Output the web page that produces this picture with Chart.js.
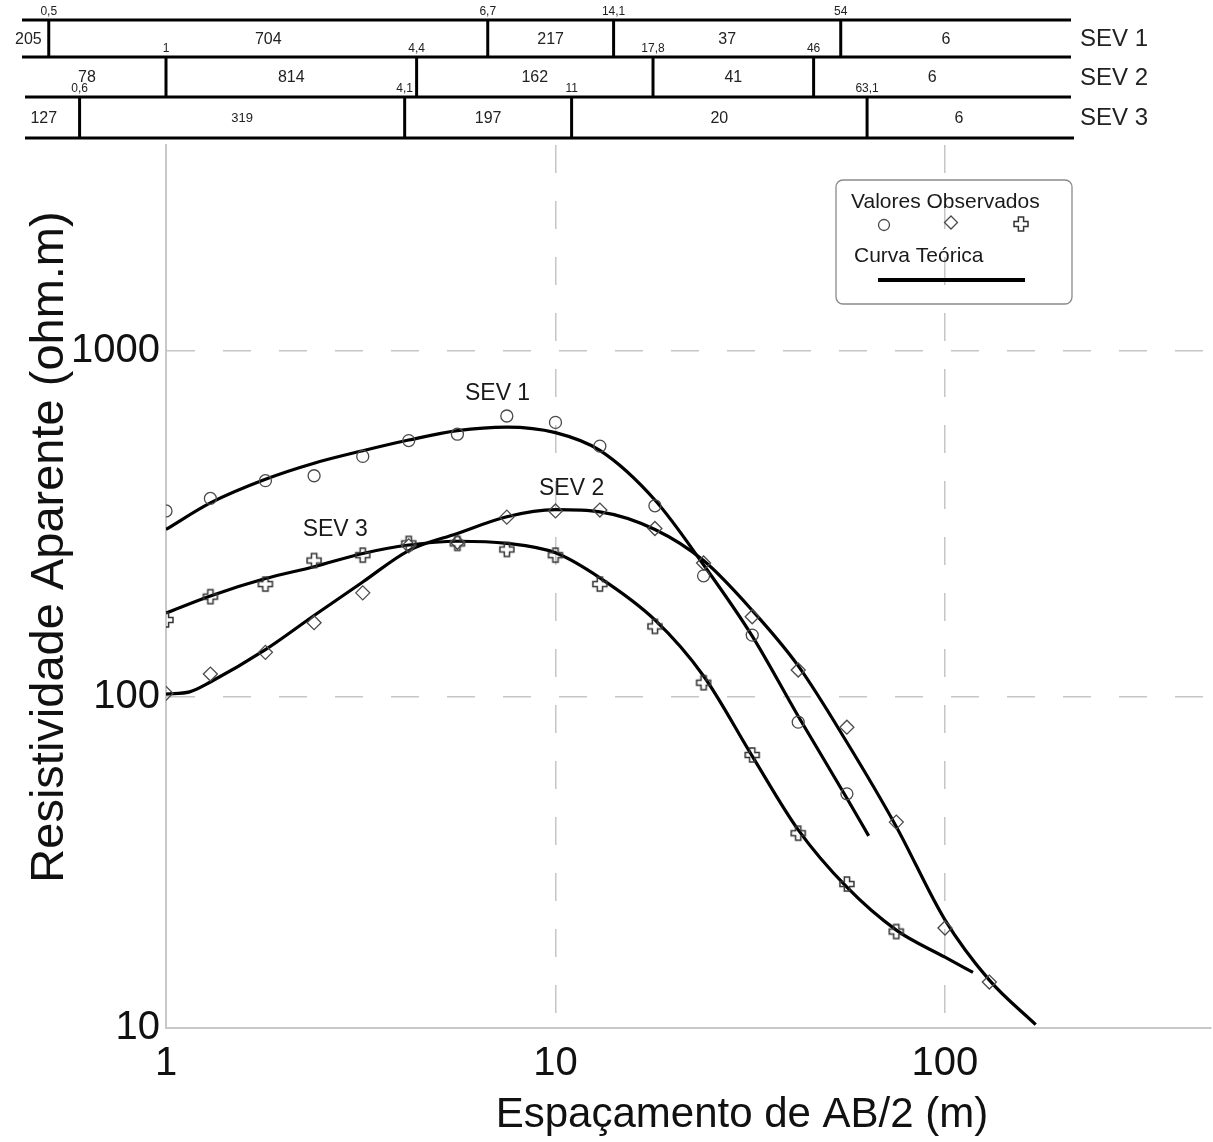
<!DOCTYPE html>
<html>
<head>
<meta charset="utf-8">
<script src="https://cdn.jsdelivr.net/npm/chart.js@4.4.1/dist/chart.umd.min.js"></script>
<style>
html,body{margin:0;padding:0;background:#fff;}
#wrap{width:1213px;height:1142px;position:relative;}
</style>
</head>
<body>
<div id="wrap"><canvas id="c" width="1213" height="1142"></canvas></div>
<script>
// ---------- DATA ----------
const abHalf = [1, 1.3, 1.8, 2.4, 3.2, 4.2, 5.6, 7.5, 10, 13, 18, 24, 32, 42, 56, 75, 100, 130];
const sev1Obs = [345, 375, 422, 436, 496, 551, 575, 649, 622, 531, 357, 224, 151, 84.6, 52.5];
const sev2Obs = [102.5, 116.5, 134.6, 164, 200, 273.5, 280, 331, 345, 347, 307, 244, 170.6, 119.7, 81.8, 43.5, 21.5, 15.0];
const sev3Obs = [167, 195, 212, 248, 257, 278, 278, 267, 257, 212, 160, 110, 68, 40.4, 28.8, 21.0];

const sev1CurveX = [1, 1.3, 1.8, 2.4, 3.2, 4.2, 5.6, 7.5, 10, 13, 18, 24, 32, 42, 56, 63.7];
const sev1CurveY = [305, 364, 426, 474, 515, 553, 589, 603, 581, 516, 371, 241, 150, 88, 51, 39.7];
const sev2CurveX = [1, 1.15, 1.3, 1.8, 2.4, 3.2, 4.2, 5.6, 7.5, 10, 13, 18, 24, 32, 42, 56, 75, 100, 130, 171];
const sev2CurveY = [102, 103.5, 110.5, 137, 172, 215, 265, 297, 332, 348, 343, 305, 248, 178, 123, 74, 42.2, 22.7, 15.2, 11.3];
const sev3CurveX = [1, 1.3, 1.8, 2.4, 3.2, 4.2, 5.6, 7.5, 10, 13, 18, 24, 32, 42, 56, 75, 100, 118];
const sev3CurveY = [175, 196, 220, 238, 260, 275, 282, 278, 261, 221, 167, 115, 67.5, 41.3, 28.2, 21.2, 17.7, 16.0];

// geoelectric layer models (depth of interfaces in m, resistivities in ohm.m)
const sevNames = ['SEV 1', 'SEV 2', 'SEV 3'];
const sev1Depths = [0.5, 6.7, 14.1, 54];
const sev1Res = [205, 704, 217, 37, 6];
const sev2Depths = [1, 4.4, 17.8, 46];
const sev2Res = [78, 814, 162, 41, 6];
const sev3Depths = [0.6, 4.1, 11, 63.1];
const sev3Res = [127, 319, 197, 20, 6];

const xTickValues = [1, 10, 100];
const xTickLabels = ['1', '10', '100'];
const yTickValues = [10, 100, 1000];
const yTickLabels = ['10', '100', '1000'];

const xTitle = 'Espaçamento de AB/2 (m)';
const yTitle = 'Resistividade Aparente (ohm.m)';
const legendObsTitle = 'Valores Observados';
const legendCurveTitle = 'Curva Teórica';
const curveLabels = [
  {text: 'SEV 1', x: 7.1, y: 751},
  {text: 'SEV 2', x: 11, y: 399},
  {text: 'SEV 3', x: 2.72, y: 304}
];

// ---------- SCALE RANGE ----------
const xMin = 1, xMax = 482;
const yMin = 11.05, yMax = 3940;

// ---------- STYLE ----------
const FONT = "'Liberation Sans', Arial, sans-serif";
const INK = '#111';
const GRID = '#c6c6c6';
const MARK = '#4a4a4a';

function makeCross() {
  const c = document.createElement('canvas');
  c.width = 18; c.height = 18;
  const g = c.getContext('2d');
  const m = 9, a = 2.6, L = 7;
  g.beginPath();
  g.moveTo(m - a, m - L); g.lineTo(m + a, m - L); g.lineTo(m + a, m - a);
  g.lineTo(m + L, m - a); g.lineTo(m + L, m + a); g.lineTo(m + a, m + a);
  g.lineTo(m + a, m + L); g.lineTo(m - a, m + L); g.lineTo(m - a, m + a);
  g.lineTo(m - L, m + a); g.lineTo(m - L, m - a); g.lineTo(m - a, m - a);
  g.closePath();
  g.strokeStyle = '#333'; g.lineWidth = 1.5; g.stroke();
  return c;
}
const crossImg = makeCross();

const pts = (xs, ys) => ys.map((v, i) => ({x: xs[i], y: v}));

function obsSet(label, data, style, radius) {
  return {
    label, data: pts(abHalf, data), showLine: false,
    pointStyle: style, pointRadius: radius, pointHoverRadius: radius,
    pointBorderColor: MARK, pointBorderWidth: 1.3,
    pointBackgroundColor: 'rgba(0,0,0,0)', borderColor: MARK, backgroundColor: 'rgba(0,0,0,0)'
  };
}
function curveSet(label, xs, ys) {
  return {
    label, data: pts(xs, ys), showLine: true, borderColor: '#000', borderWidth: 3.2,
    pointRadius: 0, cubicInterpolationMode: 'monotone', fill: false
  };
}

// ---------- PLUGINS ----------
const fmtDepth = v => String(v).replace('.', ',');

const strataPlugin = {
  id: 'strata',
  afterDraw(chart) {
    const ctx = chart.ctx, xs = chart.scales.x;
    const rows = [
      {name: sevNames[0], depths: sev1Depths, res: sev1Res},
      {name: sevNames[1], depths: sev2Depths, res: sev2Res},
      {name: sevNames[2], depths: sev3Depths, res: sev3Res}
    ];
    const lineYs = [20, 57, 97, 138];
    const xL = 22, xR = 1071;
    ctx.save();
    ctx.strokeStyle = '#000';
    ctx.lineWidth = 3;
    lineYs.forEach((y, i) => {
      ctx.beginPath();
      ctx.moveTo(i < 2 ? xL : xL + 3, y);
      ctx.lineTo(i < 3 ? xR : xR + 3, y);
      ctx.stroke();
    });
    rows.forEach((r, i) => {
      const top = lineYs[i], bot = lineYs[i + 1], mid = (top + bot) / 2;
      const px = r.depths.map(d => xs.getPixelForValue(d));
      ctx.strokeStyle = '#000'; ctx.lineWidth = 3;
      px.forEach(p => { ctx.beginPath(); ctx.moveTo(p, top); ctx.lineTo(p, bot); ctx.stroke(); });
      ctx.fillStyle = '#222';
      ctx.textAlign = 'center'; ctx.textBaseline = 'middle';
      ctx.font = '12px ' + FONT;
      px.forEach((p, k) => ctx.fillText(fmtDepth(r.depths[k]), p, top - 8));
      const edges = [xL - 14].concat(px, [xR - 20]);
      r.res.forEach((v, k) => {
        const small = (i === 2 && k === 1);
        ctx.font = (small ? '13px ' : '16px ') + FONT;
        ctx.fillText(String(v), (edges[k] + edges[k + 1]) / 2, mid + 1);
      });
      ctx.textAlign = 'left';
      ctx.font = '24px ' + FONT;
      ctx.fillText(r.name, 1080, mid + 1);
    });
    ctx.restore();
  }
};

const decorPlugin = {
  id: 'decor',
  afterDraw(chart) {
    const ctx = chart.ctx, xs = chart.scales.x, ys = chart.scales.y;
    ctx.save();
    // curve labels
    ctx.fillStyle = '#1a1a1a';
    ctx.font = '23px ' + FONT;
    ctx.textAlign = 'center'; ctx.textBaseline = 'middle';
    curveLabels.forEach(l => ctx.fillText(l.text, xs.getPixelForValue(l.x), ys.getPixelForValue(l.y)));
    // legend box
    const bx = 836, by = 180, bw = 236, bh = 124, rr = 7;
    ctx.strokeStyle = '#8a8a8a'; ctx.lineWidth = 1.3;
    ctx.beginPath();
    ctx.moveTo(bx + rr, by); ctx.lineTo(bx + bw - rr, by); ctx.arcTo(bx + bw, by, bx + bw, by + rr, rr);
    ctx.lineTo(bx + bw, by + bh - rr); ctx.arcTo(bx + bw, by + bh, bx + bw - rr, by + bh, rr);
    ctx.lineTo(bx + rr, by + bh); ctx.arcTo(bx, by + bh, bx, by + bh - rr, rr);
    ctx.lineTo(bx, by + rr); ctx.arcTo(bx, by, bx + rr, by, rr);
    ctx.closePath(); ctx.stroke();
    ctx.fillStyle = '#1a1a1a';
    ctx.textAlign = 'left'; ctx.textBaseline = 'alphabetic';
    ctx.font = '21px ' + FONT;
    ctx.fillText(legendObsTitle, 851, 208);
    ctx.fillText(legendCurveTitle, 854, 262);
    // legend markers
    ctx.strokeStyle = MARK; ctx.lineWidth = 1.3;
    ctx.beginPath(); ctx.arc(884, 225, 5.5, 0, Math.PI * 2); ctx.stroke();
    ctx.beginPath(); ctx.moveTo(951, 216); ctx.lineTo(957.5, 222.5); ctx.lineTo(951, 229); ctx.lineTo(944.5, 222.5); ctx.closePath(); ctx.stroke();
    ctx.drawImage(crossImg, 1021 - 9, 224 - 9);
    ctx.strokeStyle = '#000'; ctx.lineWidth = 4;
    ctx.beginPath(); ctx.moveTo(878, 280); ctx.lineTo(1025, 280); ctx.stroke();
    // axis titles
    ctx.fillStyle = INK;
    ctx.font = '42px ' + FONT;
    ctx.textAlign = 'center'; ctx.textBaseline = 'alphabetic';
    ctx.fillText(xTitle, 742, 1127);
    ctx.translate(63, 547);
    ctx.rotate(-Math.PI / 2);
    ctx.font = '47px ' + FONT;
    ctx.fillText(yTitle, 0, 0);
    ctx.restore();
  }
};

// ---------- CHART ----------
new Chart(document.getElementById('c'), {
  type: 'line',
  data: {
    datasets: [
      obsSet('SEV 1 – Valores Observados', sev1Obs, 'circle', 6),
      obsSet('SEV 2 – Valores Observados', sev2Obs, 'rectRot', 7),
      obsSet('SEV 3 – Valores Observados', sev3Obs, crossImg, 9),
      curveSet('SEV 1 – Curva Teórica', sev1CurveX, sev1CurveY),
      curveSet('SEV 2 – Curva Teórica', sev2CurveX, sev2CurveY),
      curveSet('SEV 3 – Curva Teórica', sev3CurveX, sev3CurveY)
    ]
  },
  options: {
    responsive: false,
    animation: false,
    devicePixelRatio: 1,
    layout: {autoPadding: false, padding: {top: 145, right: 2, left: 0, bottom: 0}},
    plugins: {legend: {display: false}, tooltip: {enabled: false}, title: {display: false}},
    scales: {
      x: {
        type: 'logarithmic', min: xMin, max: xMax,
        afterBuildTicks: s => { s.ticks = xTickValues.map(v => ({value: v})); },
        afterFit: s => { s.height = 114; },
        ticks: {
          color: INK, padding: 12, maxRotation: 0, autoSkip: false,
          font: {family: FONT, size: 40},
          callback: (v, i) => xTickLabels[i]
        },
        grid: {
          drawTicks: false, lineWidth: 1.5,
          color: c => (c.tick && c.tick.value === xMin) ? 'rgba(0,0,0,0)' : GRID
        },
        border: {display: true, color: '#c8c8c8', width: 2, dash: [28, 28]}
      },
      y: {
        type: 'logarithmic', min: yMin, max: yMax,
        afterBuildTicks: s => { s.ticks = yTickValues.map(v => ({value: Math.max(v, yMin)})); },
        afterFit: s => { s.width = 166; },
        ticks: {
          color: INK, padding: 6, autoSkip: false,
          font: {family: FONT, size: 40},
          callback: (v, i) => yTickLabels[i]
        },
        grid: {
          drawTicks: false, lineWidth: 1.5,
          color: c => (c.tick && c.tick.value === yMin) ? 'rgba(0,0,0,0)' : GRID
        },
        border: {display: true, color: '#c8c8c8', width: 2, dash: [28, 28]}
      }
    }
  },
  plugins: [strataPlugin, decorPlugin]
});
</script>
</body>
</html>
